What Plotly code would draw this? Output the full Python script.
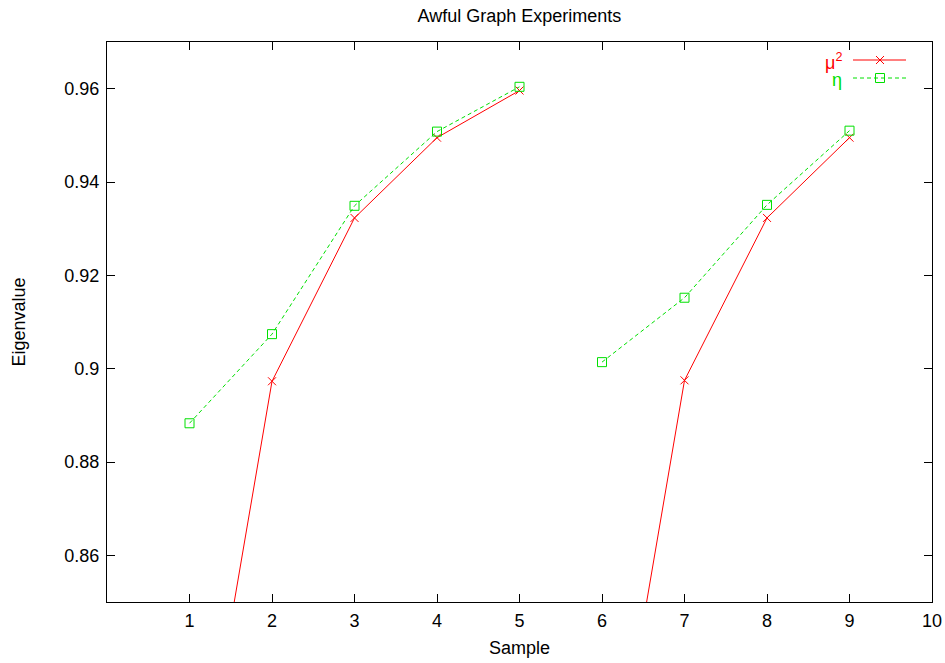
import plotly.graph_objects as go

samples = [1, 2, 3, 4, 5, None, 6, 7, 8, 9]
mu2 = [0.794, 0.8973, 0.9323, 0.9495, 0.9596, None, 0.794, 0.8975, 0.9323, 0.9495]
eta = [0.8883, 0.9074, 0.9349, 0.9508, 0.9604, None, 0.9014, 0.9152, 0.9351, 0.9510]
xticks = [1, 2, 3, 4, 5, 6, 7, 8, 9, 10]
yticks = [0.86, 0.88, 0.90, 0.92, 0.94, 0.96]
ytick_text = ["0.86", "0.88", "0.9", "0.92", "0.94", "0.96"]

RED = "#ff0000"
GREEN = "#00e000"
FONT = "Liberation Sans, Arial, sans-serif"

W, H = 945, 663
PL, PR, PT, PB = 107, 932, 42, 602  # plot-area edges in pixels
L, R, T, B = PL, W - PR, PT, H - PB

fig = go.Figure()
fig.add_trace(go.Scatter(x=samples, y=mu2, mode="lines+markers", name="μ²",
                         line=dict(color=RED, width=1),
                         marker=dict(symbol="x-thin-open", size=8, color=RED, line=dict(color=RED, width=1)),
                         connectgaps=False, showlegend=False, cliponaxis=True))
fig.add_trace(go.Scatter(x=samples, y=eta, mode="lines+markers", name="η",
                         line=dict(color=GREEN, width=1, dash="4px,3px"),
                         marker=dict(symbol="square-open", size=9, color=GREEN, line=dict(color=GREEN, width=1)),
                         connectgaps=False, showlegend=False, cliponaxis=True))

# manual gnuplot-style key (pixel overlay axes)
fig.add_trace(go.Scatter(x=[853, 880, 906], y=[60, 60, 60], mode="lines+markers",
                         line=dict(color=RED, width=1), xaxis="x2", yaxis="y2",
                         marker=dict(symbol="x-thin-open", size=8, color=RED, line=dict(color=RED, width=1),
                                     opacity=[0, 1, 0]),
                         showlegend=False, hoverinfo="skip"))
fig.add_trace(go.Scatter(x=[853, 880, 906], y=[78, 78, 78], mode="lines+markers",
                         line=dict(color=GREEN, width=1, dash="4px,3px"), xaxis="x2", yaxis="y2",
                         marker=dict(symbol="square-open", size=9, color=GREEN, line=dict(color=GREEN, width=1),
                                     opacity=[0, 1, 0]),
                         showlegend=False, hoverinfo="skip"))

fig.add_annotation(x=844, y=61, xref="x2", yref="y2", text="μ<sup>2</sup>", showarrow=False,
                   xanchor="right", yanchor="middle", font=dict(color=RED, size=18, family=FONT))
fig.add_annotation(x=844, y=80, xref="x2", yref="y2", text="η", showarrow=False,
                   xanchor="right", yanchor="middle", font=dict(color=GREEN, size=18, family=FONT))

axis_common = dict(showline=True, linecolor="black", linewidth=1, mirror="ticks",
                   ticks="inside", ticklen=8, tickcolor="black", tickwidth=1,
                   showgrid=False, zeroline=False, automargin=False,
                   ticklabeloverflow="allow",
                   tickfont=dict(size=18, family=FONT, color="black"))

fig.update_layout(
    template="none",
    width=W, height=H,
    margin=dict(l=L, r=R, t=T, b=B, autoexpand=False),
    paper_bgcolor="white", plot_bgcolor="white",
    title=dict(text="Awful Graph Experiments", x=(L + W - R) / 2 / W, xanchor="center",
               y=1 - 15.5 / H, yanchor="middle", pad=dict(t=0, b=0),
               font=dict(size=18, family=FONT, color="black")),
    xaxis=dict(range=[0, 10], tickvals=xticks, ticktext=[str(t) for t in xticks],
               ticklabelstandoff=2,
               title=dict(text="Sample", font=dict(size=18, family=FONT, color="black"), standoff=11),
               **axis_common),
    yaxis=dict(range=[0.85, 0.97], tickvals=yticks, ticktext=ytick_text,
               ticklabelstandoff=3,
               title=dict(text="Eigenvalue", font=dict(size=18, family=FONT, color="black"), standoff=34),
               **axis_common),
    xaxis2=dict(range=[PL, PR], overlaying="x", visible=False, fixedrange=True),
    yaxis2=dict(range=[PB, PT], overlaying="y", visible=False, fixedrange=True),
    showlegend=False,
)

fig.write_html("out.html", config={"displayModeBar": False},
               post_script="document.body.style.margin='0';")
